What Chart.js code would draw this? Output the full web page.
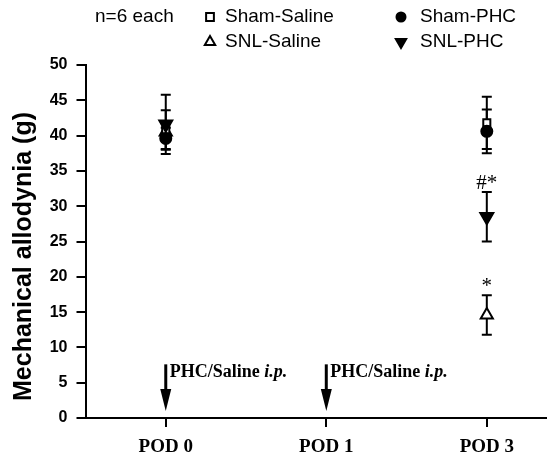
<!DOCTYPE html>
<html>
<head>
<meta charset="utf-8">
<script src="https://cdn.jsdelivr.net/npm/chart.js@4.4.1/dist/chart.umd.min.js"></script>
<style>
    html, body { margin: 0; padding: 0; background: #fff; overflow: hidden; }
    .wrap { width: 547px; height: 457px; }
</style>
</head>
<body>
<div class="wrap"><canvas id="chart"></canvas></div>
<script>
// data (mean and SEM, grams)
const categories = ["POD 0", "POD 1", "POD 3"];
const seriesNames = ["Sham-Saline", "SNL-Saline", "Sham-PHC", "SNL-PHC"];
const shamSaline = [40.8, null, 41.8];
const shamSalineErr = [2.8, null, 3.7];
const snlSaline = [40.5, null, 14.6];
const snlSalineErr = [1.2, null, 2.8];
const shamPhc = [39.6, null, 40.6];
const shamPhcErr = [1.5, null, 3.1];
const snlPhc = [41.6, null, 28.5];
const snlPhcErr = [4.2, null, 3.5];
const snlSalineSig = ["", "", "*"];
const snlPhcSig = ["", "", "#*"];
const injectionDays = ["POD 0", "POD 1"];
const injectionLabel = ["PHC/Saline ", "i.p."];
const nLabel = "n=6 each";
const yTitle = "Mechanical allodynia (g)";

const ctx = document.getElementById("chart");

function toPoints(values) {
    let pts = [];
    values.forEach((v, i) => {
        if (v !== null) pts.push({ x: i, y: v });
    });
    return pts;
}

const seriesValues = [shamSaline, snlSaline, shamPhc, snlPhc];
const seriesErrors = [shamSalineErr, snlSalineErr, shamPhcErr, snlPhcErr];
const seriesSig = [null, snlSalineSig, null, snlPhcSig];

const styles = [
    { pointStyle: "rect", radius: 5, bg: "#fff", rotation: 0, order: 3, legendRadius: 5.5 },
    { pointStyle: "triangle", radius: 7, bg: "#fff", rotation: 0, order: 4, legendRadius: 6 },
    { pointStyle: "circle", radius: 5.5, bg: "#000", rotation: 0, order: 2, legendRadius: 4.5 },
    { pointStyle: "triangle", radius: 7.5, bg: "#000", rotation: 180, order: 1, legendRadius: 6 },
];

const extras = {
    id: "extras",
    beforeDatasetsDraw: (chart) => {
        const { ctx, scales } = chart;
        ctx.save();
        ctx.strokeStyle = "#000";
        ctx.lineWidth = 2;
        seriesValues.forEach((vals, s) => {
            vals.forEach((v, i) => {
                if (v === null) return;
                const e = seriesErrors[s][i];
                const x = scales.x.getPixelForValue(i);
                const yt = scales.y.getPixelForValue(v + e);
                const yb = scales.y.getPixelForValue(v - e);
                ctx.beginPath();
                ctx.moveTo(x, yt); ctx.lineTo(x, yb);
                ctx.moveTo(x - 5, yt); ctx.lineTo(x + 5, yt);
                ctx.moveTo(x - 5, yb); ctx.lineTo(x + 5, yb);
                ctx.stroke();
            });
        });
        ctx.restore();
    },
    afterDraw: (chart) => {
        const { ctx, scales } = chart;
        ctx.save();
        ctx.fillStyle = "#000";
        ctx.strokeStyle = "#000";

        // significance marks
        ctx.font = "21px 'Liberation Serif'";
        ctx.textAlign = "center";
        ctx.textBaseline = "middle";
        seriesSig.forEach((sig, s) => {
            if (!sig) return;
            sig.forEach((t, i) => {
                if (!t) return;
                const x = scales.x.getPixelForValue(i);
                const y = scales.y.getPixelForValue(seriesValues[s][i] + seriesErrors[s][i]) - 9;
                ctx.fillText(t, x, y);
            });
        });

        // injection arrows
        injectionDays.forEach((day) => {
            const x = scales.x.getPixelForValue(categories.indexOf(day));
            const top = scales.y.getPixelForValue(7.6);
            const tip = scales.y.getPixelForValue(1.0);
            ctx.lineWidth = 3;
            ctx.beginPath();
            ctx.moveTo(x, top);
            ctx.lineTo(x, tip - 18);
            ctx.stroke();
            ctx.beginPath();
            ctx.moveTo(x - 5.5, tip - 22);
            ctx.lineTo(x + 5.5, tip - 22);
            ctx.lineTo(x, tip);
            ctx.closePath();
            ctx.fill();
            ctx.textAlign = "left";
            ctx.textBaseline = "alphabetic";
            const by = scales.y.getPixelForValue(5.8);
            ctx.font = "bold 18px 'Liberation Serif'";
            ctx.fillText(injectionLabel[0], x + 4, by);
            const w = ctx.measureText(injectionLabel[0]).width;
            ctx.font = "italic bold 18px 'Liberation Serif'";
            ctx.fillText(injectionLabel[1], x + 4 + w, by);
        });

        // y title
        ctx.save();
        ctx.translate(31, (chart.chartArea.top + chart.chartArea.bottom) / 2 + 15);
        ctx.rotate(-Math.PI / 2);
        ctx.font = "bold 25px 'Liberation Sans'";
        ctx.textAlign = "center";
        ctx.textBaseline = "alphabetic";
        ctx.fillText(yTitle, 0, 0);
        ctx.restore();

        // legend block
        ctx.font = "19px 'Liberation Sans'";
        ctx.textAlign = "left";
        ctx.textBaseline = "middle";
        ctx.fillText(nLabel, 95, 17);
        const cols = [210, 210, 401, 401];
        const rows = [17, 42, 17, 42];
        chart.data.datasets.forEach((ds, s) => {
            ctx.fillStyle = styles[s].bg;
            ctx.strokeStyle = "#000";
            ctx.lineWidth = 2;
            Chart.helpers.drawPoint(ctx, {
                pointStyle: ds.pointStyle,
                radius: styles[s].legendRadius,
                rotation: ds.rotation,
                borderWidth: 2,
            }, cols[s], rows[s]);
            ctx.fillStyle = "#000";
            ctx.fillText(ds.label, cols[s] + (s < 2 ? 15 : 19), rows[s]);
        });
        ctx.restore();
    },
};

new Chart(ctx, {
    type: "scatter",
    data: {
        datasets: seriesNames.map((name, s) => ({
            label: name,
            data: toPoints(seriesValues[s]),
            pointStyle: styles[s].pointStyle,
            pointRadius: styles[s].radius,
            pointHoverRadius: styles[s].radius,
            rotation: styles[s].rotation,
            backgroundColor: styles[s].bg,
            borderColor: "#000",
            borderWidth: 2,
            order: styles[s].order,
            showLine: false,
        })),
    },
    options: {
        responsive: true,
        maintainAspectRatio: false,
        animation: false,
        devicePixelRatio: 1,
        layout: { autoPadding: false, padding: { top: 65, right: 0, left: 0, bottom: 0 } },
        plugins: {
            legend: { display: false },
            tooltip: { enabled: false },
        },
        scales: {
            x: {
                type: "linear",
                min: -0.5,
                max: 2.375,
                afterBuildTicks: (scale) => {
                    scale.ticks = categories.map((c, i) => ({ value: i }));
                },
                afterFit: (scale) => { scale.height = 39; },
                grid: { drawOnChartArea: false, drawTicks: true, tickLength: 9, color: "#000", lineWidth: 2 },
                border: { color: "#000", width: 2 },
                ticks: {
                    autoSkip: false,
                    maxRotation: 0,
                    padding: 9,
                    color: "#000",
                    font: { family: "Liberation Serif", size: 19, weight: "bold" },
                    callback: (v) => categories[v] ?? "",
                },
            },
            y: {
                min: 0,
                max: 50,
                afterFit: (scale) => { scale.width = 85.5; },
                grid: { drawOnChartArea: false, drawTicks: true, tickLength: 9, color: "#000", lineWidth: 2 },
                border: { color: "#000", width: 2 },
                ticks: {
                    stepSize: 5,
                    padding: 9,
                    color: "#000",
                    font: { family: "Liberation Sans", size: 16, weight: "bold" },
                },
            },
        },
    },
    plugins: [extras],
});
</script>
</body>
</html>
